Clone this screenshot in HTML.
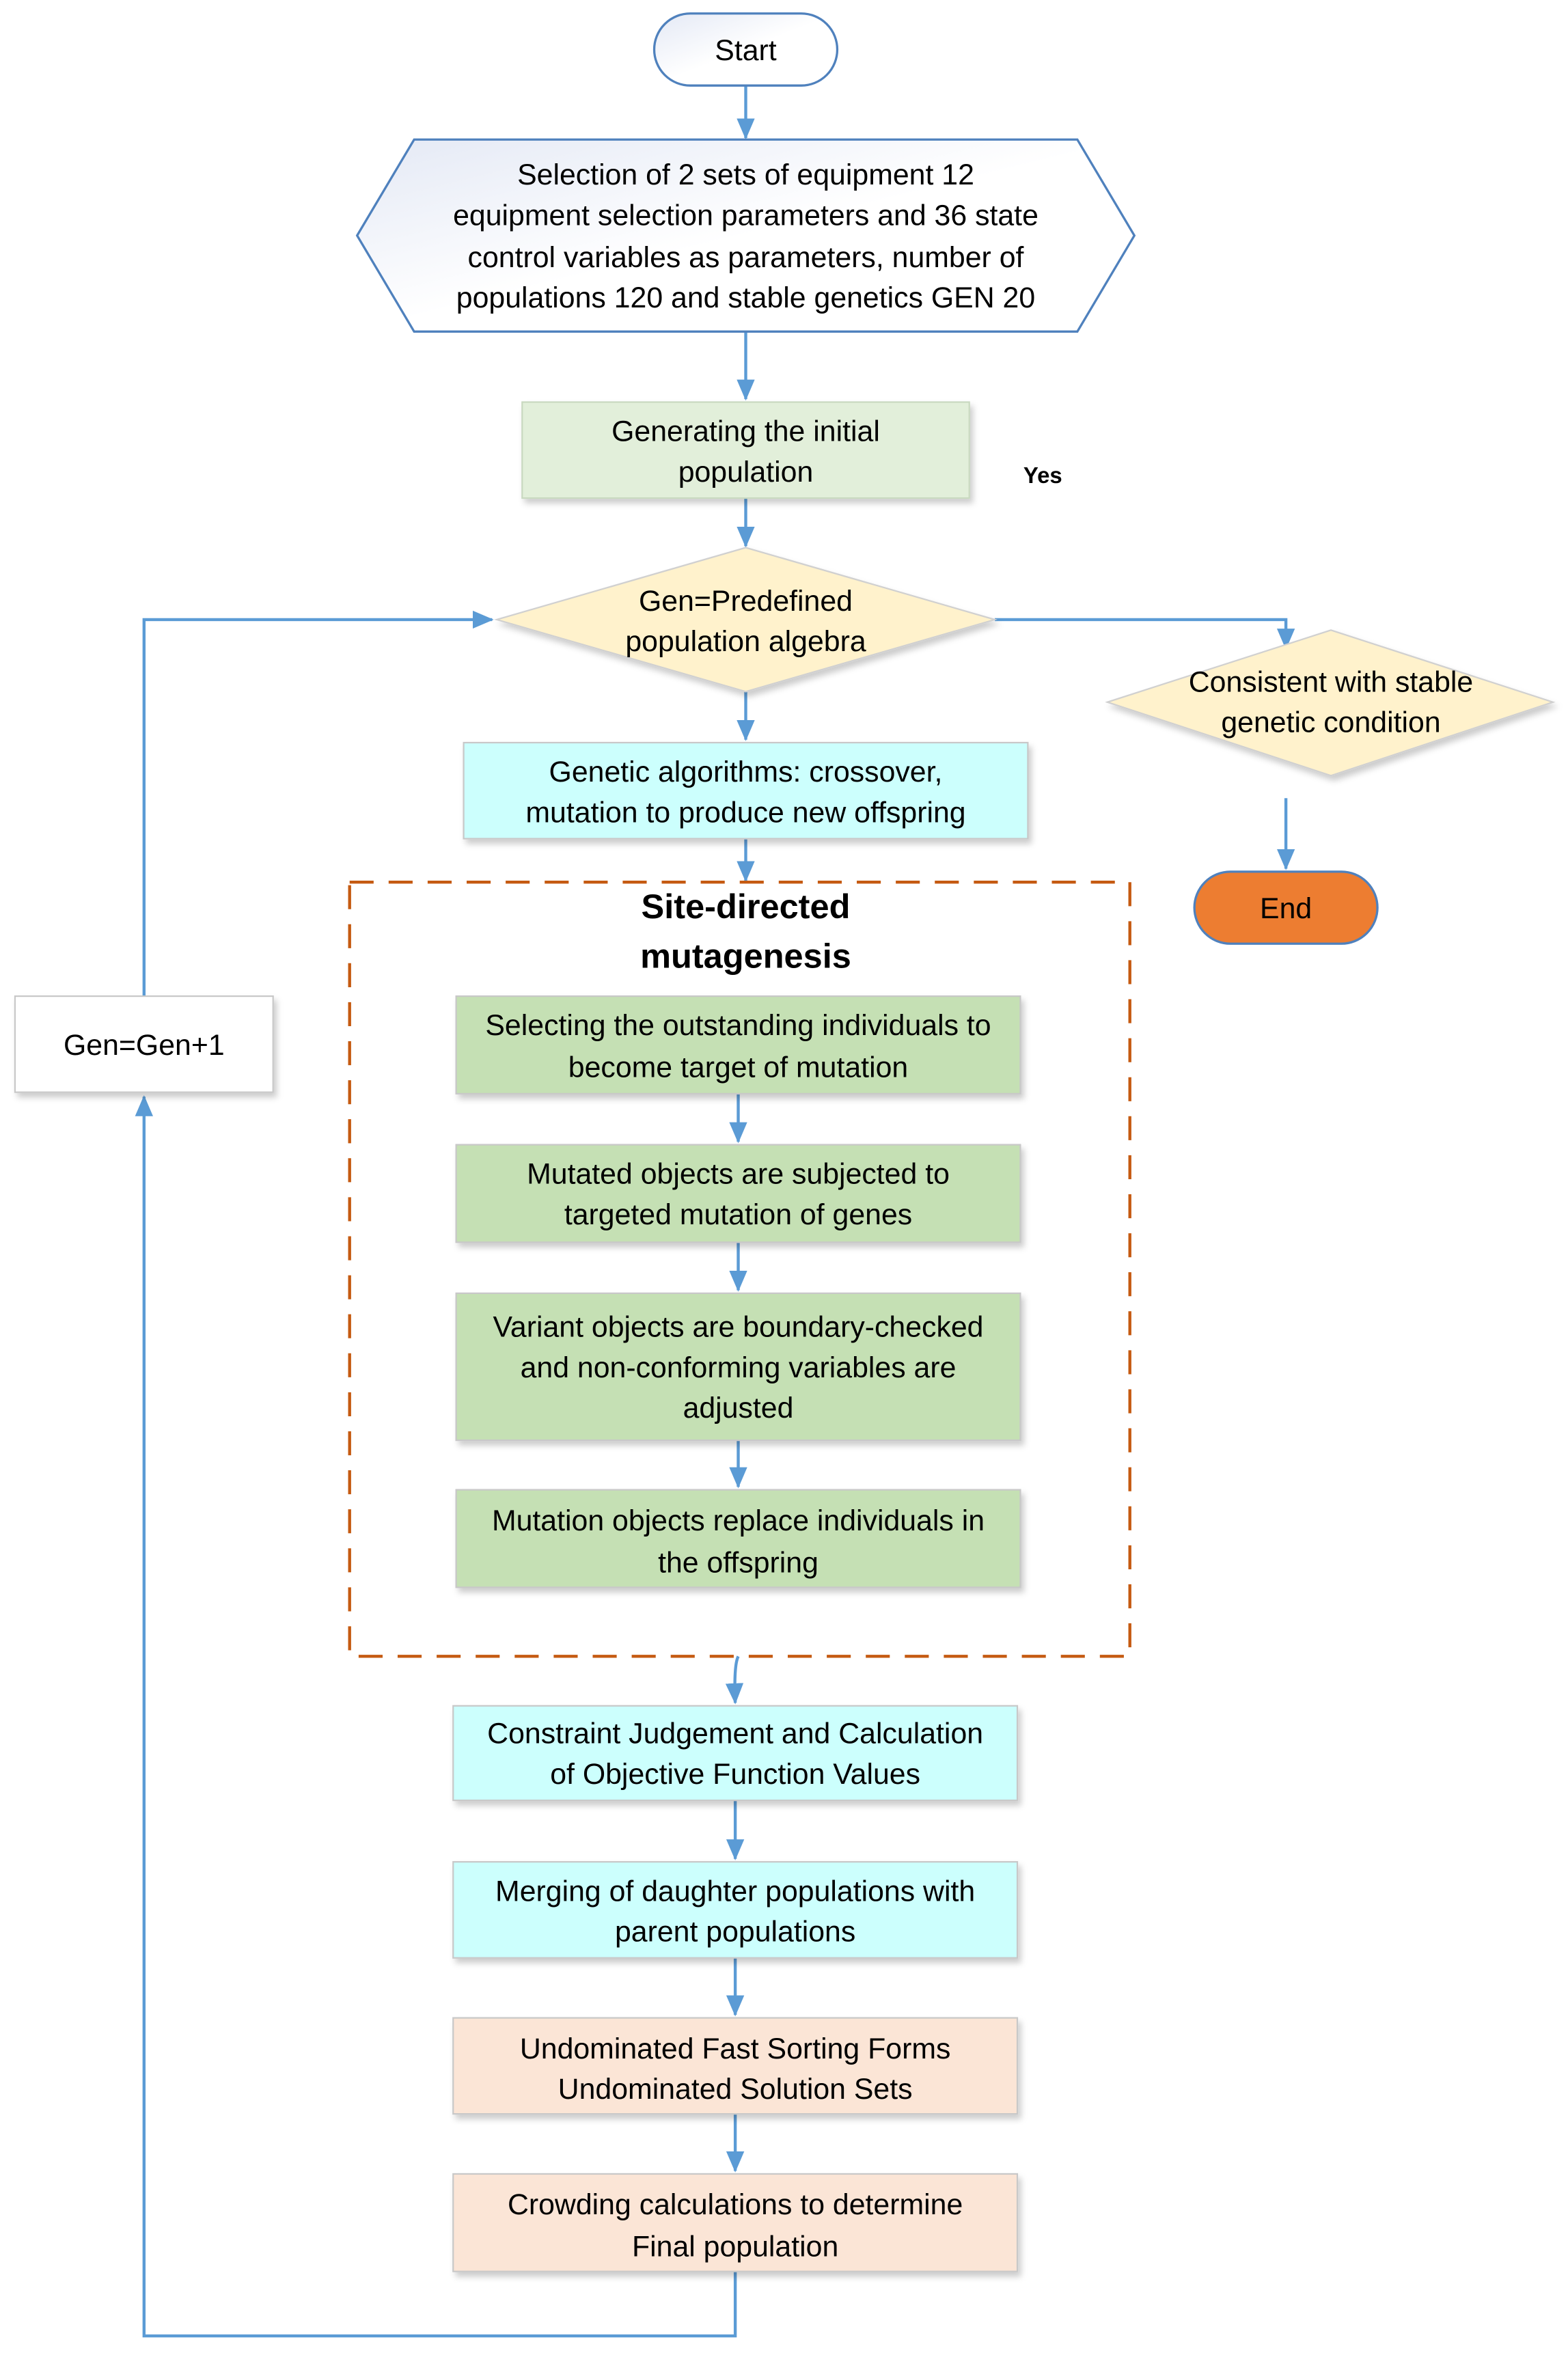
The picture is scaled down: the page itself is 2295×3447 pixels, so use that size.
<!DOCTYPE html>
<html><head><meta charset="utf-8"><style>
html,body{margin:0;padding:0;background:#fff;}
svg{display:block;}
text{font-family:"Liberation Sans",sans-serif;font-size:19.5px;fill:#000;text-anchor:middle;}
</style></head><body>
<svg width="2295" height="3447" viewBox="0 0 1045 1569.7" preserveAspectRatio="none" xmlns="http://www.w3.org/2000/svg">
<defs>
<linearGradient id="g1" x1="0" y1="0" x2="1" y2="1"><stop offset="0" stop-color="#e4e9f5"/><stop offset="0.5" stop-color="#fff"/><stop offset="1" stop-color="#fff"/></linearGradient>
<marker id="a" markerWidth="14" markerHeight="12" refX="13" refY="6" orient="auto" markerUnits="userSpaceOnUse"><path d="M0,0 L14,6 L0,12 z" fill="#5b9bd5"/></marker>
<filter id="sh" x="-10%" y="-10%" width="130%" height="140%"><feDropShadow dx="2" dy="3" stdDeviation="2" flood-color="#000" flood-opacity="0.2"/></filter>
</defs>
<g stroke="#5b9bd5" stroke-width="2" fill="none">
<line x1="497" y1="57" x2="497" y2="92" marker-end="url(#a)"/>
<line x1="497" y1="221" x2="497" y2="266" marker-end="url(#a)"/>
<line x1="497" y1="332" x2="497" y2="364" marker-end="url(#a)"/>
<line x1="497" y1="461" x2="497" y2="493" marker-end="url(#a)"/>
<line x1="497" y1="559" x2="497" y2="587" marker-end="url(#a)"/>
<line x1="492" y1="729" x2="492" y2="761" marker-end="url(#a)"/>
<line x1="492" y1="828" x2="492" y2="860" marker-end="url(#a)"/>
<line x1="492" y1="960" x2="492" y2="991" marker-end="url(#a)"/>
<path d="M492,1104 Q489,1110 490,1135" marker-end="url(#a)"/>
<line x1="490" y1="1200" x2="490" y2="1239" marker-end="url(#a)"/>
<line x1="490" y1="1305" x2="490" y2="1343" marker-end="url(#a)"/>
<line x1="490" y1="1409" x2="490" y2="1447" marker-end="url(#a)"/>
<polyline points="490,1514 490,1557 96,1557 96,731" marker-end="url(#a)"/>
<polyline points="96,664 96,413 328,413" marker-end="url(#a)"/>
<polyline points="663,413 857,413 857,432" marker-end="url(#a)"/>
<line x1="857" y1="532" x2="857" y2="579" marker-end="url(#a)"/>
</g>
<rect x="436" y="9" width="122" height="48" rx="24" fill="url(#g1)" stroke="#4f81bd" stroke-width="1.5"/>
<text x="497" y="40">Start</text>
<polygon points="238,157 276,93 718,93 756,157 718,221 276,221" fill="url(#g1)" stroke="#4f81bd" stroke-width="1.5"/>
<text x="497" y="123">Selection of 2 sets of equipment 12</text>
<text x="497" y="150">equipment selection parameters and 36 state</text>
<text x="497" y="178">control variables as parameters, number of</text>
<text x="497" y="205">populations 120 and stable genetics GEN 20</text>
<rect x="348" y="268" width="298" height="64" fill="#e2efda" stroke="#c9d9c0" filter="url(#sh)"/>
<text x="497" y="294">Generating the initial</text>
<text x="497" y="321">population</text>
<text x="695" y="322" style="font-size:15px;font-weight:bold">Yes</text>
<polygon points="331,413 497,365 663,413 497,461" fill="#fff2cc" stroke="#d0d0d0" filter="url(#sh)"/>
<text x="497" y="407">Gen=Predefined</text>
<text x="497" y="434">population algebra</text>
<rect x="309" y="495" width="376" height="64" fill="#ccfffd" stroke="#c8c8c8" filter="url(#sh)"/>
<text x="497" y="521">Genetic algorithms: crossover,</text>
<text x="497" y="548">mutation to produce new offspring</text>
<rect x="233" y="588" width="520" height="516" fill="none" stroke="#c55a11" stroke-width="2" stroke-dasharray="16,10"/>
<text x="497" y="612" style="font-size:23px;font-weight:bold">Site-directed</text>
<text x="497" y="645" style="font-size:23px;font-weight:bold">mutagenesis</text>
<g fill="#c5e0b4" stroke="#c8c8c8" filter="url(#sh)">
<rect x="304" y="664" width="376" height="65"/>
<rect x="304" y="763" width="376" height="65"/>
<rect x="304" y="862" width="376" height="98"/>
<rect x="304" y="993" width="376" height="65"/>
</g>
<text x="492" y="690">Selecting the outstanding individuals to</text>
<text x="492" y="718">become target of mutation</text>
<text x="492" y="789">Mutated objects are subjected to</text>
<text x="492" y="816">targeted mutation of genes</text>
<text x="492" y="891">Variant objects are boundary-checked</text>
<text x="492" y="918">and non-conforming variables are</text>
<text x="492" y="945">adjusted</text>
<text x="492" y="1020">Mutation objects replace individuals in</text>
<text x="492" y="1048">the offspring</text>
<g stroke="#c8c8c8" filter="url(#sh)">
<rect x="302" y="1137" width="376" height="63" fill="#ccfffd"/>
<rect x="302" y="1241" width="376" height="64" fill="#ccfffd"/>
<rect x="302" y="1345" width="376" height="64" fill="#fbe5d6"/>
<rect x="302" y="1449" width="376" height="65" fill="#fbe5d6"/>
<rect x="10" y="664" width="172" height="64" fill="#fff"/>
</g>
<text x="490" y="1162">Constraint Judgement and Calculation</text>
<text x="490" y="1189">of Objective Function Values</text>
<text x="490" y="1267">Merging of daughter populations with</text>
<text x="490" y="1294">parent populations</text>
<text x="490" y="1372">Undominated Fast Sorting Forms</text>
<text x="490" y="1399">Undominated Solution Sets</text>
<text x="490" y="1476">Crowding calculations to determine</text>
<text x="490" y="1504">Final population</text>
<text x="96" y="703">Gen=Gen+1</text>
<polygon points="738,468 887,420 1035,468 887,517" fill="#fff2cc" stroke="#d0d0d0" filter="url(#sh)"/>
<text x="887" y="461">Consistent with stable</text>
<text x="887" y="488">genetic condition</text>
<rect x="796" y="581" width="122" height="48" rx="24" fill="#ed7d31" stroke="#4f81bd" stroke-width="1.5"/>
<text x="857" y="612">End</text>
</svg>
</body></html>
